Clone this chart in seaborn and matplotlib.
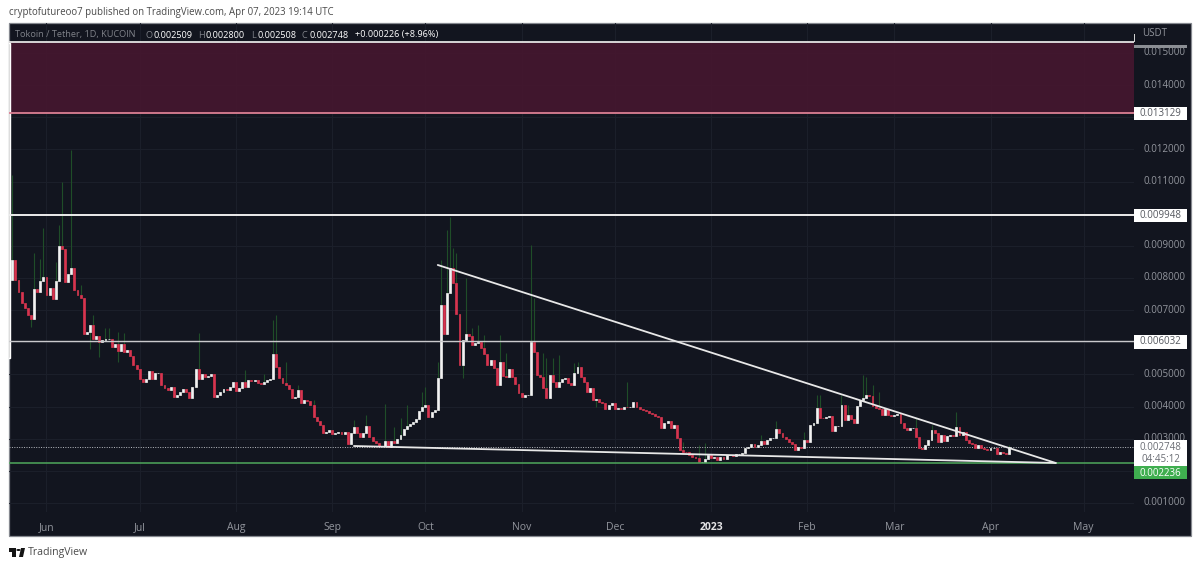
import numpy as np
import pandas as pd
import matplotlib.pyplot as plt
import matplotlib.dates as mdates
from matplotlib.patches import Rectangle, Polygon, Circle
import seaborn as sns

first_open = 7.94
closes = [
    8.56, 7.94, 7.57, 7.21, 7.06, 6.85, 6.71, 7.66, 7.55, 7.92, 8.02, 7.47, 7.68, 7.34, 7.92, 9.00,
    8.90, 7.89, 8.11, 8.30, 7.63, 7.47, 7.37, 6.26, 6.33, 6.55, 6.09, 6.20, 6.02, 6.07, 6.10, 6.10,
    5.84, 5.94, 5.74, 5.96, 5.70, 5.77, 5.57, 5.29, 5.16, 4.87, 4.77, 4.87, 5.10, 4.87, 5.05, 5.05,
    4.67, 4.57, 4.50, 4.60, 4.29, 4.36, 4.44, 4.55, 4.44, 4.26, 4.62, 5.16, 4.87, 5.00, 4.93, 4.95,
    5.00, 4.31, 4.36, 4.44, 4.56, 4.50, 4.62, 4.75, 4.49, 4.59, 4.75, 4.62, 4.83, 4.78, 4.82, 4.73,
    4.70, 4.75, 4.83, 4.87, 5.65, 5.24, 4.88, 4.72, 4.67, 4.54, 4.26, 4.30, 4.51, 4.10, 4.20, 4.17,
    4.05, 3.67, 3.55, 3.43, 3.19, 3.21, 3.27, 3.15, 3.19, 3.20, 3.15, 3.20, 2.85, 3.17, 3.36, 3.17,
    3.06, 3.17, 3.40, 3.04, 2.94, 2.86, 2.77, 2.78, 2.92, 2.75, 2.94, 2.86, 3.00, 3.11, 3.30, 3.40,
    3.46, 3.52, 3.60, 3.85, 4.00, 4.05, 3.68, 3.84, 3.90, 4.88, 7.17, 6.26, 7.52, 8.32, 7.84, 6.88,
    5.29, 6.07, 6.25, 6.20, 5.92, 5.99, 6.02, 5.81, 5.64, 5.29, 5.45, 5.20, 4.67, 5.39, 4.95, 4.93,
    5.16, 4.91, 4.70, 4.43, 4.30, 4.36, 4.36, 6.02, 5.71, 4.98, 4.91, 4.57, 4.26, 4.98, 4.75, 4.60,
    4.77, 4.86, 4.90, 4.73, 4.67, 5.05, 5.24, 4.93, 4.77, 4.46, 4.57, 4.20, 4.25, 4.13, 4.10, 3.91,
    4.05, 4.10, 3.91, 3.97, 3.93, 4.00, 3.98, 4.00, 4.15, 3.98, 3.91, 3.89, 3.85, 3.81, 3.77, 3.72,
    3.69, 3.34, 3.48, 3.55, 3.32, 3.43, 3.01, 2.65, 2.60, 2.58, 2.49, 2.44, 2.39, 2.29, 2.29, 2.37,
    2.50, 2.39, 2.44, 2.34, 2.44, 2.36, 2.48, 2.50, 2.47, 2.51, 2.52, 2.55, 2.70, 2.75, 2.83, 2.75,
    2.80, 2.94, 2.84, 2.96, 3.03, 3.03, 3.30, 3.17, 3.06, 2.98, 2.91, 2.83, 2.65, 2.75, 2.72, 2.96,
    2.91, 3.43, 3.50, 3.95, 3.64, 3.63, 3.69, 3.70, 3.24, 3.40, 3.41, 4.05, 3.58, 3.74, 3.60, 3.48,
    4.02, 4.20, 4.26, 4.36, 4.32, 4.02, 3.97, 3.92, 3.74, 3.91, 3.74, 3.72, 3.74, 3.76, 3.48, 3.34,
    3.27, 3.33, 3.33, 3.04, 2.70, 2.68, 2.80, 2.96, 3.27, 3.17, 2.91, 3.12, 2.94, 3.08, 3.12, 3.08,
    3.37, 3.11, 3.20, 2.96, 2.87, 2.85, 2.70, 2.80, 2.72, 2.67, 2.65, 2.72, 2.72, 2.52, 2.60, 2.55,
    2.51, 2.748,
]

# candles with a visible wick: day number and high / low
wick_days = [0, 7, 9, 10, 14, 15, 16, 19, 22, 26, 30, 31, 34, 36, 60, 75, 81, 84, 85, 88, 92, 97, 110,
             114, 120, 123, 125, 127, 132, 133, 137, 138, 140, 141, 142, 143, 146, 148, 150, 152, 157,
             159, 167, 168, 171, 172, 174, 176, 181, 182, 198, 216, 221, 223, 241, 246, 255, 259, 260,
             267, 269, 274, 275, 277, 279, 291, 296, 304, 321]
wick_highs = [11.2, 8.77, 8.58, 9.55, 8.5, 9.65, 11.0, 11.98, 7.78, 6.85, 6.43, 6.43, 6.33, 6.28, 6.28,
              5.14, 5.0, 6.69, 6.85, 5.4, 4.67, 4.2, 3.58, 3.74, 4.08, 3.37, 3.63, 4.05, 4.46, 4.62, 5.4,
              8.56, 9.5, 9.91, 8.92, 8.77, 7.99, 6.43, 6.54, 6.23, 6.23, 5.66, 9.03, 7.37, 5.66, 5.5, 5.5,
              5.6, 5.37, 5.4, 4.77, 2.91, 2.8, 2.86, 3.1, 3.56, 3.22, 4.36, 4.36, 4.36, 4.05, 4.98, 4.93,
              4.67, 4.46, 3.63, 3.43, 3.84, 2.80]
low_days = [6, 25, 28, 34, 145, 188]
low_values = [6.49, 5.8, 5.55, 5.4, 4.88, 3.99]

level_prices = [0.015341, 0.013129, 0.009948, 0.006032, 0.002236]
level_colors = ['#e4e4e4', '#dc8094', '#ececec', '#c9c9cc', '#4fa85c']
level_widths = [1.3, 1.3, 1.4, 1.0, 1.1]
last_price = 0.002748

upper_line_dates = ['2022-10-05', '2023-04-22']
upper_line_prices = [0.008405, 0.002245]
lower_line_dates = ['2022-09-08', '2023-04-22']
lower_line_prices = [0.002773, 0.002245]

price_ticks = [0.001, 0.003, 0.004, 0.005, 0.007, 0.008, 0.009, 0.011, 0.012, 0.014, 0.015]
price_grid = [0.001, 0.002, 0.003, 0.004, 0.005, 0.006, 0.007, 0.008, 0.009, 0.010, 0.011, 0.012, 0.013, 0.014, 0.015]
month_dates = ['2022-06-01', '2022-07-01', '2022-08-01', '2022-09-01', '2022-10-01', '2022-11-01',
               '2022-12-01', '2023-01-01', '2023-02-01', '2023-03-01', '2023-04-01', '2023-05-01']
month_labels = ['Jun', 'Jul', 'Aug', 'Sep', 'Oct', 'Nov', 'Dec', '2023', 'Feb', 'Mar', 'Apr', 'May']

BG = '#12151f'
GRID = '#1b1f2a'
UP = '#f2f2f2'
DOWN = '#d8344f'
WICK = '#1f4d28'
LABEL = '#92959d'

sns.set_theme(style='darkgrid', rc={'axes.facecolor': BG, 'grid.color': GRID, 'grid.linewidth': 0.8})
plt.rcParams['font.family'] = ['Open Sans', 'DejaVu Sans']

W, H = 1200, 566
fig = plt.figure(figsize=(W / 100, H / 100), dpi=100, facecolor='white')


def fx(px):
    return px / W


def fy(px):
    return 1 - px / H


# dark panel behind chart and both axes
fig.patches.append(Rectangle((fx(9), fy(536)), fx(1182), 513 / H, transform=fig.transFigure,
                             facecolor=BG, edgecolor='#85888f', linewidth=0.9, zorder=-1))

ax = fig.add_axes([fx(9), fy(512), fx(1125), 489 / H])
ax.patch.set_alpha(0)

dates = pd.date_range('2022-05-21', periods=len(closes))
close = np.array(closes) / 1000
open_ = np.r_[first_open / 1000, close[:-1]]
open_[321] = 0.002509
high = np.maximum(open_, close)
low = np.minimum(open_, close)
high[wick_days] = np.array(wick_highs) / 1000
low[low_days] = np.array(low_values) / 1000
candles = pd.DataFrame({'date': dates, 'open': open_, 'close': close, 'high': high, 'low': low})

ax.vlines(candles['date'], candles['low'], candles['high'], color=WICK, linewidth=0.8, zorder=2)
colors = [UP if c >= o else DOWN for o, c in zip(open_, close)]
ax.bar(candles['date'], (candles['close'] - candles['open']).abs(), bottom=np.minimum(open_, close),
       width=0.62, color=colors, edgecolor=colors, linewidth=0.5, zorder=3)

# very first candle, cut off by the left edge of the panel
ax.bar(pd.Timestamp('2022-05-20'), 0.0153 - 0.0055, bottom=0.0055, width=0.62, color='#c8c8c8', zorder=3)

# resistance zone and levels
ax.axhspan(level_prices[1], level_prices[0], color='#46172f', alpha=0.9, zorder=1, linewidth=0)
for price, col, lw in zip(level_prices, level_colors, level_widths):
    ax.axhline(price, color=col, linewidth=lw, zorder=4)
ax.axhline(last_price, color='#b9bcc2', linewidth=0.7, linestyle=(0, (1, 1.5)), zorder=2)

sns.lineplot(x=pd.to_datetime(upper_line_dates), y=upper_line_prices, color='#e8e8e8', linewidth=1.3, ax=ax, zorder=5)
sns.lineplot(x=pd.to_datetime(lower_line_dates), y=lower_line_prices, color='#e8e8e8', linewidth=1.3, ax=ax, zorder=5)

ax.set_xlim(mdates.date2num(pd.Timestamp('2022-05-21')) - 1.07, mdates.date2num(pd.Timestamp('2022-05-21')) + 361.2)
ax.set_ylim(0.00072, 0.015933)
ax.set_xlabel('')
ax.set_ylabel('')
ax.set_yticks(price_grid)
ax.set_yticklabels([])
ax.set_xticks(pd.to_datetime(month_dates))
ax.set_xticklabels(month_labels, color=LABEL, fontsize=7.5)
ax.tick_params(axis='x', length=0, pad=7.5)
ax.tick_params(axis='y', length=0)
ax.get_xticklabels()[7].set_color('#e4e4e6')
ax.get_xticklabels()[7].set_fontweight('bold')
for s in ax.spines.values():
    s.set_visible(False)

# price axis labels
for p in price_ticks:
    ax.annotate(f'{p:.6f}', xy=(1, p), xycoords=('axes fraction', 'data'), xytext=(9, 0),
                textcoords='offset pixels', color=LABEL, fontsize=7, va='center', ha='left')
fig.text(fx(1142), fy(33), 'USDT', color=LABEL, fontsize=7, va='center', ha='left')

# squashed labels on top of the axis
fig.patches.append(Rectangle((fx(1134), fy(48)), fx(53), 3 / H, transform=fig.transFigure,
                             facecolor='#8b8e94', edgecolor='none'))
fig.patches.append(Rectangle((fx(1133.5), fy(42)), fx(1), 8 / H, transform=fig.transFigure,
                             facecolor='#d0d0d0', edgecolor='none'))


def tag(top, bottom, face, lines, color):
    fig.patches.append(Rectangle((fx(1134), fy(bottom)), fx(53), (bottom - top) / H,
                                 transform=fig.transFigure, facecolor=face, edgecolor='none', zorder=6))
    for y, s in lines:
        fig.text(fx(1160.5), fy(y), s, color=color, fontsize=7, ha='center', va='center', zorder=7)


tag(107, 120, 'white', [(113.5, '0.013129')], '#55585f')
tag(209, 222, 'white', [(215.5, '0.009948')], '#55585f')
tag(335, 349, 'white', [(342, '0.006032')], '#55585f')
tag(440, 466, 'white', [(447.5, '0.002748'), (459, '04:45:12')], '#6a6d74')
tag(466, 479, '#3fae4f', [(473, '0.002236')], 'white')

# headers
fig.text(fx(9), fy(13), 'cryptofutureoo7 published on TradingView.com, Apr 07, 2023 19:14 UTC',
         color='#4a4a4a', fontsize=6.9, va='center', ha='left')
fig.text(fx(15), fy(35), 'Tokoin / Tether, 1D, KUCOIN', color='#7f8289', fontsize=6.6, va='center', ha='left')
legend_parts = [(145, 'O', '#7f8289'), (153, '0.002509', 'white'), (198, 'H', '#7f8289'), (206, '0.002800', 'white'),
                (251, 'L', '#7f8289'), (257, '0.002508', 'white'), (302, 'C', '#7f8289'), (309, '0.002748', 'white'),
                (355, '+0.000226 (+8.96%)', 'white')]
for x, s, col in legend_parts:
    fig.text(fx(x), fy(35), s, color=col, fontsize=6.6, va='center', ha='left')

# TradingView mark
logo = dict(transform=fig.transFigure, facecolor='#141414', edgecolor='none')
fig.patches.append(Rectangle((fx(9), fy(552)), fx(7), 4 / H, **logo))
fig.patches.append(Rectangle((fx(12), fy(557)), fx(4), 9 / H, **logo))
fig.patches.append(Polygon([(fx(19), fy(557)), (fx(23), fy(557)), (fx(25), fy(548)), (fx(21), fy(548))], **logo))
fig.patches.append(Circle((fx(18.5), fy(550)), 0.0018, **logo))
fig.text(fx(28), fy(552), 'TradingView', color='#4a4a4a', fontsize=7.6, va='center', ha='left')

fig.savefig('out.png', dpi=100, facecolor='white')
